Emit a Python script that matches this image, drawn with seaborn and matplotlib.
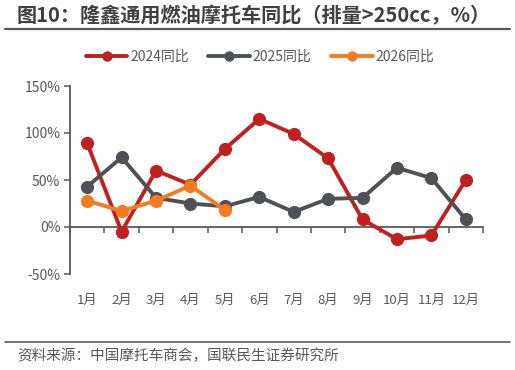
import matplotlib
matplotlib.use("Agg")
import matplotlib.pyplot as plt
import seaborn as sns
import pandas as pd
from matplotlib.lines import Line2D
from matplotlib.ticker import FuncFormatter, FixedLocator

months = ["1月", "2月", "3月", "4月", "5月", "6月", "7月", "8月", "9月", "10月", "11月", "12月"]
yoy_2024 = [89, -5, 60, 45, 83, 115, 99, 73, 8, -13, -9, 50]
yoy_2025 = [43, 74, 31, 25, 22, 32, 16, 30, 31, 63, 52, 8]
yoy_2026 = [28, 17, 28, 44, 18]
series_names = ["2024同比", "2025同比", "2026同比"]
colors = ["#C0201F", "#4E5257", "#F47B20"]

title = "图10：隆鑫通用燃油摩托车同比（排量>250cc，%）"
source = "资料来源：中国摩托车商会，国联民生证券研究所"

rows = []
for name, vals in zip(series_names, [yoy_2024, yoy_2025, yoy_2026]):
    for i, v in enumerate(vals):
        rows.append({"x": i, "month": months[i], "series": name, "value": v})
df = pd.DataFrame(rows)

sns.set_theme(style="white")
plt.rcParams["font.family"] = ["Noto Sans CJK SC", "DejaVu Sans"]
plt.rcParams["axes.unicode_minus"] = False

fig = plt.figure(figsize=(5.15, 3.7), dpi=100)
ax = fig.add_axes([70/515, 1-274/370, (483-70)/515, (274-86)/370])

sns.lineplot(data=df, x="x", y="value", hue="series", palette=colors,
             hue_order=series_names, marker="o", markersize=9.5, linewidth=2.8,
             markeredgewidth=0, ax=ax, legend=False, sort=False)

ax.set_xlim(-0.5, 11.5)
ax.set_ylim(-50, 150)
ax.set_yticks([-50, 0, 50, 100, 150])
ax.yaxis.set_major_formatter(FuncFormatter(lambda v, p: f"{v:.0f}%"))
ax.set_xlabel("")
ax.set_ylabel("")

axis_col = "#595959"
for s in ["top", "right"]:
    ax.spines[s].set_visible(False)
ax.spines["left"].set_color(axis_col)
ax.spines["left"].set_linewidth(1.3)
ax.spines["bottom"].set_position(("data", 0))
ax.spines["bottom"].set_color(axis_col)
ax.spines["bottom"].set_linewidth(1.3)
ax.spines["bottom"].set_zorder(0)

ax.xaxis.set_major_locator(FixedLocator([]))
ax.xaxis.set_minor_locator(FixedLocator([i - 0.5 for i in range(13)]))
ax.tick_params(axis="x", which="minor", length=4, width=1.1, color=axis_col, direction="out", bottom=True)
ax.tick_params(axis="y", which="major", length=4, width=1.1, color=axis_col, direction="out", left=True,
               labelsize=10, labelcolor="#595959", pad=3)

sec = ax.secondary_xaxis("bottom")
sec.set_xticks(range(12))
sec.set_xticklabels(months)
sec.tick_params(length=0, labelsize=9.5, labelcolor="#595959", pad=14)
sec.spines["bottom"].set_visible(False)

handles = [Line2D([], [], color=c, linewidth=2.8, marker="o", markersize=7.5, markeredgewidth=0) for c in colors]
leg = fig.legend(handles, series_names, loc="center", bbox_to_anchor=(260/515, 1-57/370), ncol=3,
                 frameon=False, fontsize=10, handlelength=3.0, handletextpad=0.2, columnspacing=1.4,
                 labelcolor="#595959")

fig.text(17/515, 1-16/370, title, fontsize=14.5, fontweight="bold", color="#404040", va="center", ha="left")
fig.add_artist(Line2D([5/515, 510/515], [1-29/370, 1-29/370], color="#595959", linewidth=1.6))
fig.add_artist(Line2D([5/515, 510/515], [1-342/370, 1-342/370], color="#595959", linewidth=1.2))
fig.text(17/515, 1-356/370, source, fontsize=10.5, color="#595959", va="center", ha="left")

fig.savefig("out.png", dpi=100)
